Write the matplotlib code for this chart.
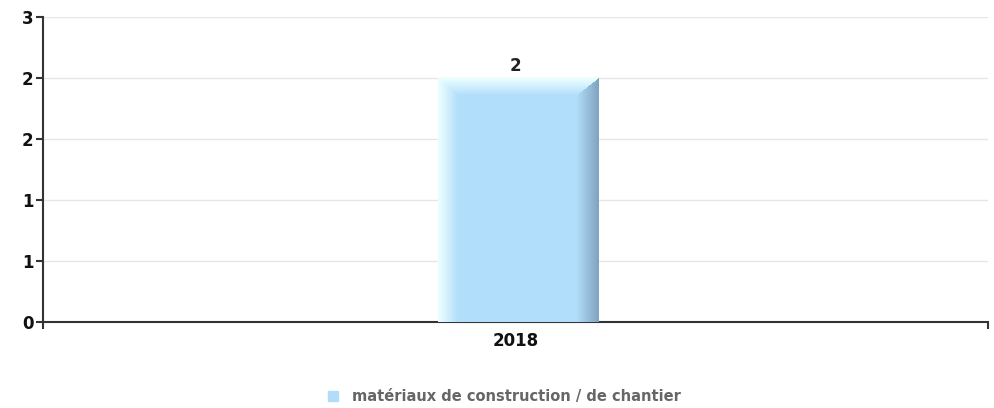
import matplotlib
matplotlib.use('Agg')
import matplotlib.pyplot as plt
import numpy as np
from matplotlib.ticker import FixedLocator, FuncFormatter

categories = ['2018']
values = [2]
series_name = 'matériaux de construction / de chantier'
y_ticks = [0, 0.5, 1, 1.5, 2, 2.5]

BAR_WIDTH = 0.17
BASE = np.array([178, 222, 251]) / 255
LIGHT = np.array([236, 255, 255]) / 255
DARK = np.array([128, 164, 192]) / 255


def bevel_image(h_px, w_px, left=20, right=22, top=17):
    img = np.zeros((h_px, w_px, 3))
    for r in range(h_px):
        for c in range(w_px):
            dl, dr, dt = c, w_px - 1 - c, r
            col = BASE
            cand = []
            if dl < left:
                cand.append((dl / left, 'l'))
            if dr < right:
                cand.append((dr / right, 'r'))
            if dt < top:
                cand.append((dt / top, 't'))
            if cand:
                f, side = min(cand)
                if side == 'r':
                    col = DARK * (1 - f) + BASE * f
                else:
                    col = LIGHT * (1 - f) + BASE * f
            img[r, c] = col
    return img


fig = plt.figure(figsize=(9.94, 4.08), dpi=100)
ax = fig.add_axes([43 / 994, 1 - 322 / 408, (988 - 43) / 994, (322 - 17) / 408])

for i, v in enumerate(values):
    x0, x1 = i - BAR_WIDTH / 2 + 0.003, i + BAR_WIDTH / 2 + 0.003
    h_px = int(round(v / 2.5 * 305))
    w_px = int(round(BAR_WIDTH * 945))
    ax.imshow(bevel_image(h_px, w_px), extent=(x0, x1, 0, v), aspect='auto',
              origin='upper', zorder=3, interpolation='bilinear')
    ax.text(i, v + 0.025, str(v), ha='center', va='bottom', fontsize=12,
            fontweight='bold', color='#222222', zorder=4)

ax.set_xlim(-0.5, 0.5)
ax.set_ylim(0, 2.5)

ax.yaxis.set_major_locator(FixedLocator(y_ticks))
ax.yaxis.set_major_formatter(FuncFormatter(lambda v, p: str(int(np.floor(v + 0.5)))))
ax.grid(axis='y', color='#e6e6e6', linewidth=1, zorder=0)
ax.set_axisbelow(True)

ax.set_xticks(range(len(categories)))
ax.set_xticklabels(categories)
ax.set_xticks([-0.5, 0.5], minor=True)
ax.tick_params(axis='x', which='major', length=0, pad=7)
ax.tick_params(axis='x', which='minor', length=5, width=1.5, color='#333333')
ax.tick_params(axis='y', length=5, width=1.5, color='#333333', pad=2)
for lab in ax.get_xticklabels() + ax.get_yticklabels():
    lab.set_fontweight('bold')
    lab.set_fontsize(12)
    lab.set_color('#111111')

for side in ('top', 'right'):
    ax.spines[side].set_visible(False)
for side in ('left', 'bottom'):
    ax.spines[side].set_color('#333333')
    ax.spines[side].set_linewidth(1.5)
    ax.spines[side].set_zorder(2)

# legend
fig.patches.append(plt.Rectangle((328 / 994, 1 - 401 / 408), 10 / 994, 10 / 408,
                                 transform=fig.transFigure, color='#b2ddfa'))
fig.text(352 / 994, 1 - 396 / 408, series_name, ha='left', va='center',
         fontsize=10.5, fontweight='bold', color='#666666',
         family='DejaVu Sans')

fig.savefig('out.png', dpi=100)
